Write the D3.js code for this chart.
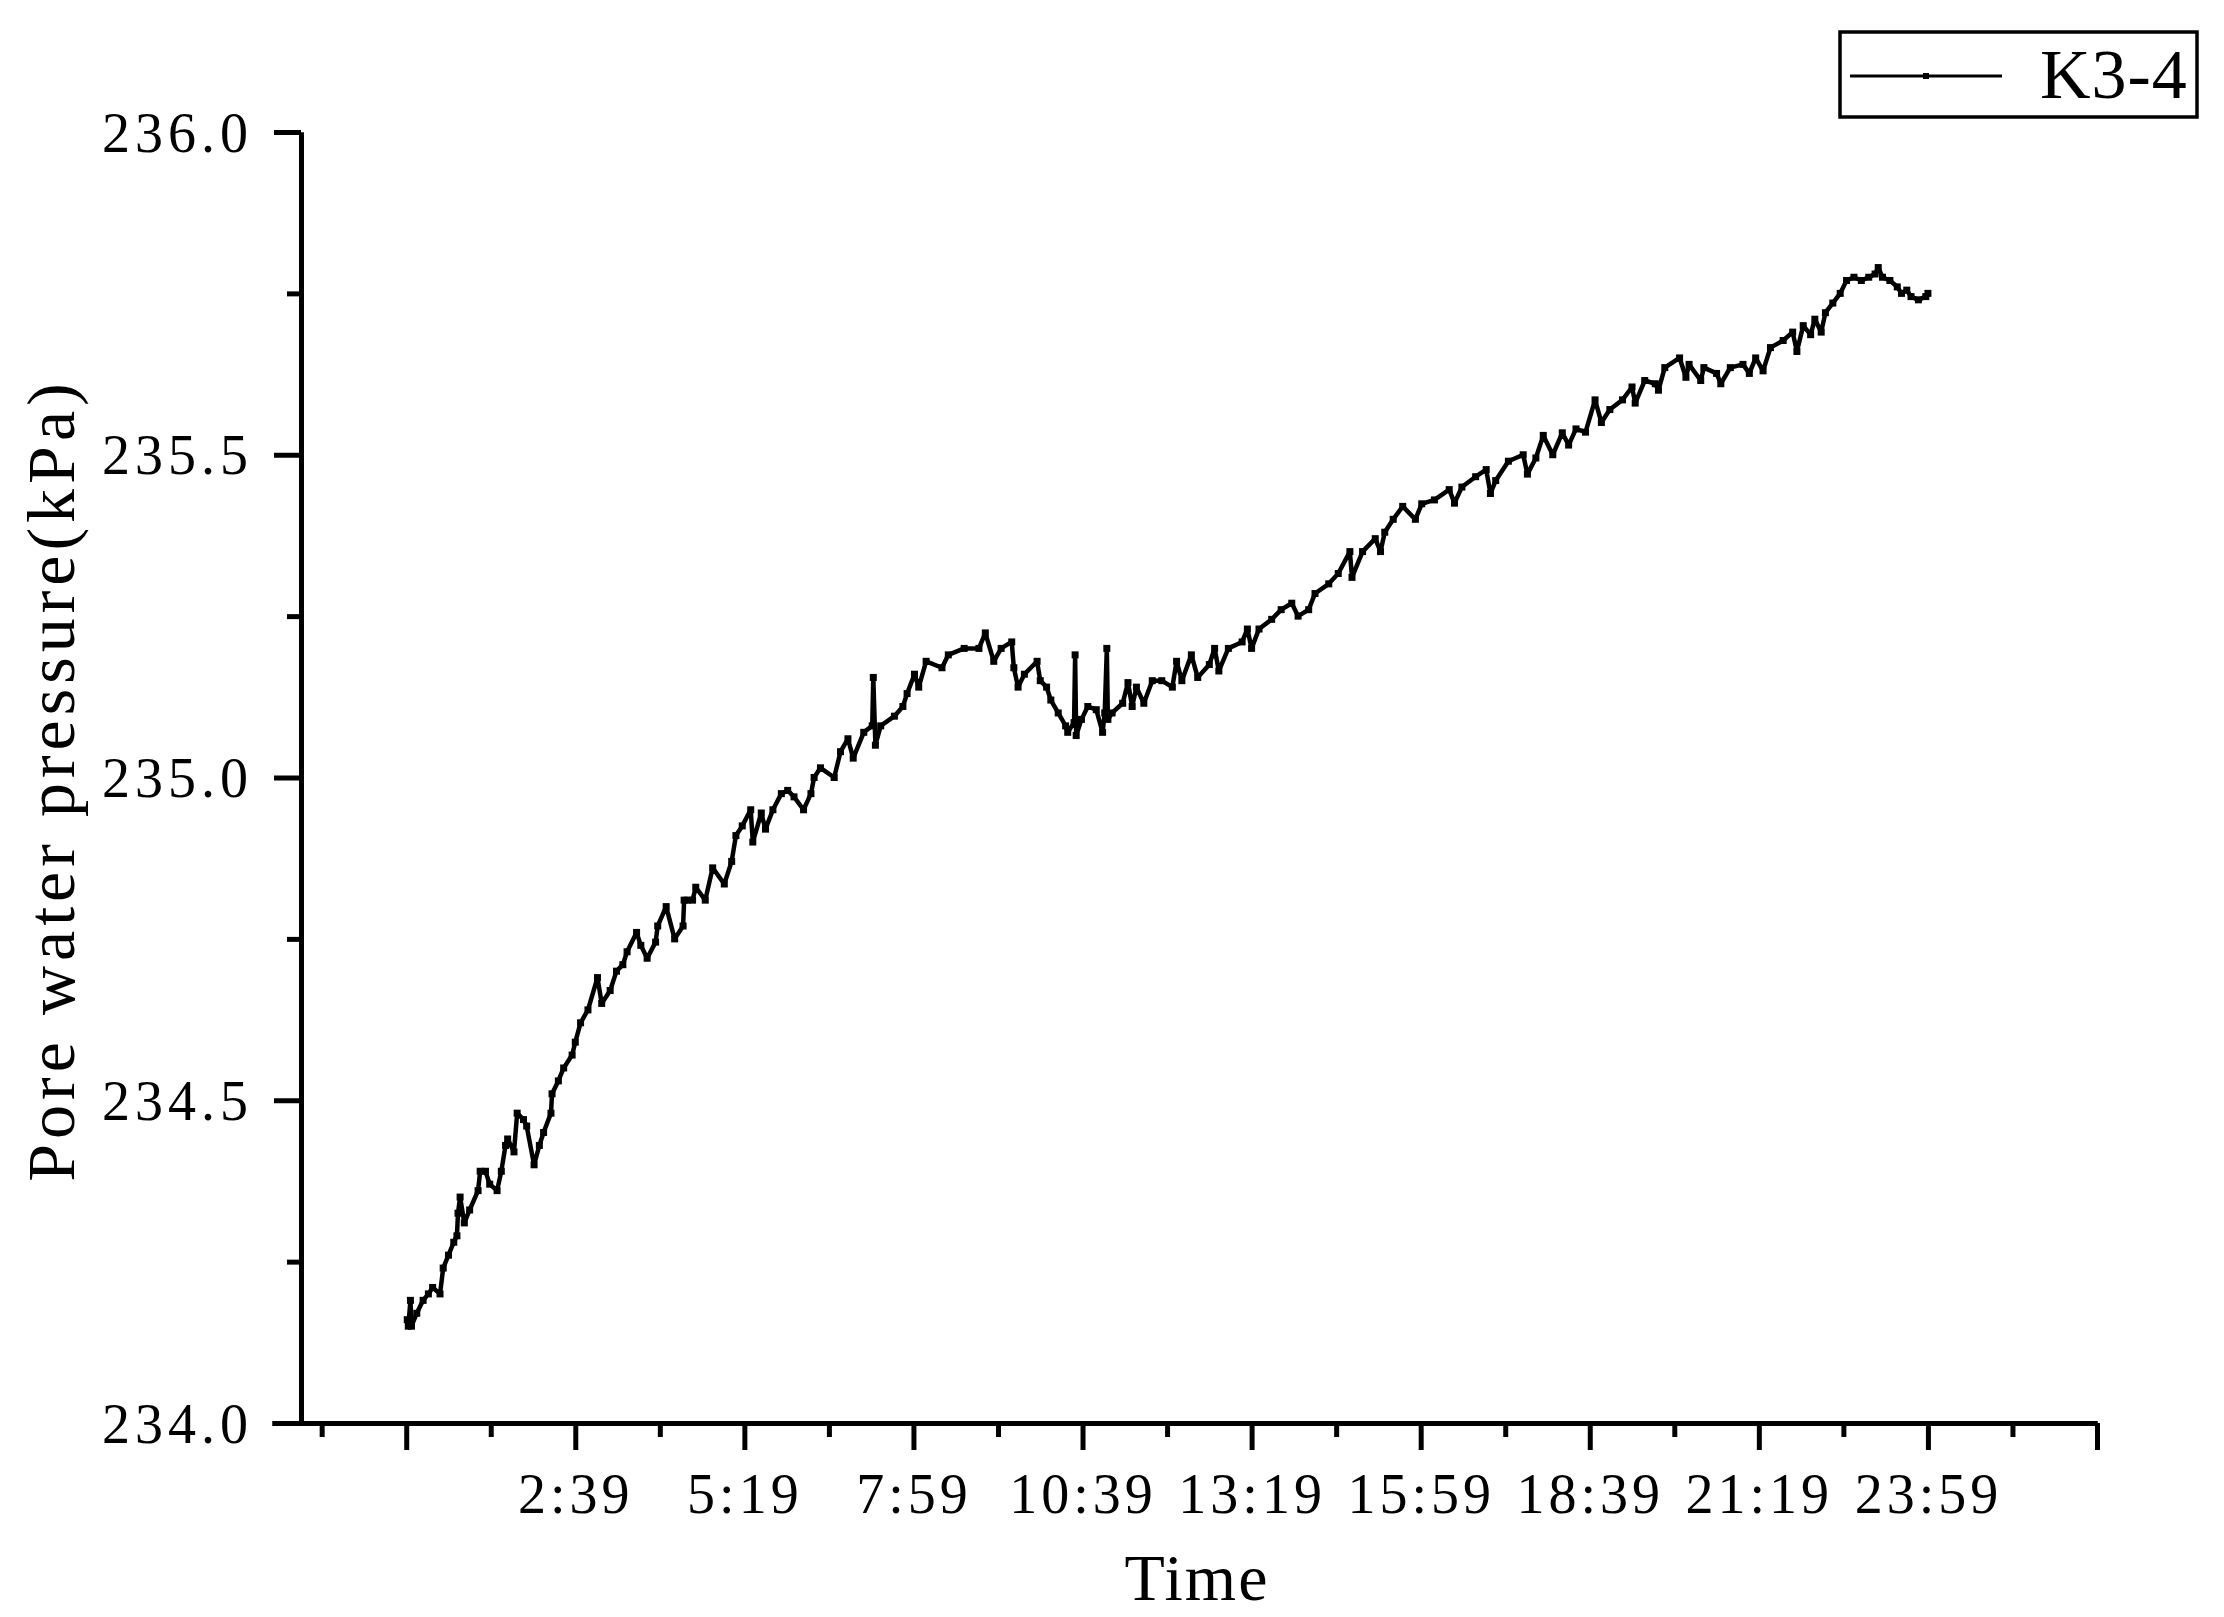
<!DOCTYPE html>
<html>
<head>
<meta charset="utf-8">
<script src="https://cdn.jsdelivr.net/npm/d3@7"></script>
<style>
    body { margin: 0; background: #fff; }
    svg text { font-family: "Liberation Serif", "Times New Roman", serif; fill: #000; }
</style>
</head>
<body>
<div id="chart"></div>
<script>
// time in minutes from 0:00, pressure in kPa
const timeMin = [
    0, 1, 3, 4, 9, 15, 20, 24, 31, 34, 39, 44, 47, 48, 50, 54, 59, 67, 69, 74,
    78, 85, 89, 93, 95, 101, 104, 110, 113, 120, 125, 129, 136, 137, 143, 148, 156, 159, 164, 171,
    180, 184, 192, 198, 204, 208, 217, 221, 227, 235, 237, 245, 253, 261, 262, 265, 270, 273, 282, 289,
    300, 307, 311, 317, 325, 327, 335, 339, 346, 354, 360, 366, 375, 382, 385, 391, 404, 410, 417, 422,
    432, 440, 441, 443, 448, 461, 469, 473, 480, 484, 491, 506, 512, 527, 541, 547, 555, 562, 572, 574,
    578, 584, 596, 599, 605, 609, 616, 623, 625, 631, 632, 633, 638, 644, 652, 658, 660, 662, 663, 667,
    677, 682, 686, 690, 697, 705, 714, 724, 728, 733, 742, 748, 759, 764, 768, 777, 790, 795, 799, 806,
    818, 827, 837, 843, 853, 859, 872, 881, 892, 894, 904, 916, 921, 925, 933, 942, 954, 960, 972, 986,
    991, 998, 1011, 1021, 1025, 1030, 1042, 1056, 1060, 1068, 1075, 1084, 1093, 1099, 1106, 1115, 1124, 1130, 1138, 1150,
    1159, 1162, 1171, 1181, 1184, 1190, 1204, 1210, 1213, 1224, 1227, 1239, 1243, 1252, 1264, 1270, 1276, 1283, 1290, 1302,
    1311, 1315, 1321, 1328, 1332, 1338, 1342, 1349, 1356, 1362, 1369, 1376, 1383, 1389, 1392, 1396, 1403, 1410, 1414, 1419,
    1423, 1430, 1437, 1439
];
const pressure = [
    234.16, 234.15, 234.19, 234.15, 234.17, 234.19, 234.20, 234.21, 234.20, 234.24, 234.26, 234.28, 234.29, 234.325, 234.35, 234.31, 234.33, 234.36, 234.39, 234.39,
    234.37, 234.36, 234.39, 234.43, 234.44, 234.42, 234.48, 234.47, 234.46, 234.40, 234.43, 234.45, 234.48, 234.51, 234.53, 234.55, 234.57, 234.59, 234.62, 234.64,
    234.69, 234.65, 234.67, 234.70, 234.71, 234.73, 234.76, 234.74, 234.72, 234.745, 234.77, 234.80, 234.75, 234.77, 234.81, 234.81, 234.81, 234.83, 234.81, 234.86,
    234.835, 234.87, 234.91, 234.925, 234.95, 234.90, 234.945, 234.92, 234.95, 234.975, 234.98, 234.97, 234.95, 234.975, 235.00, 235.015, 235.00, 235.04, 235.06, 235.03,
    235.07, 235.08, 235.155, 235.05, 235.08, 235.095, 235.11, 235.13, 235.16, 235.14, 235.18, 235.17, 235.19, 235.20, 235.20, 235.224, 235.18, 235.20, 235.21, 235.17,
    235.14, 235.16, 235.18, 235.15, 235.14, 235.12, 235.10, 235.08, 235.07, 235.085, 235.19, 235.065, 235.09, 235.11, 235.105, 235.07, 235.10, 235.20, 235.09, 235.10,
    235.115, 235.147, 235.11, 235.14, 235.115, 235.15, 235.15, 235.14, 235.18, 235.15, 235.19, 235.155, 235.175, 235.20, 235.165, 235.20, 235.21, 235.23, 235.20, 235.23,
    235.245, 235.26, 235.27, 235.25, 235.26, 235.285, 235.30, 235.316, 235.35, 235.31, 235.35, 235.37, 235.35, 235.38, 235.40, 235.42, 235.40, 235.424, 235.43, 235.446,
    235.425, 235.45, 235.466, 235.477, 235.44, 235.46, 235.49, 235.50, 235.47, 235.495, 235.53, 235.50, 235.534, 235.515, 235.54, 235.535, 235.585, 235.55, 235.57, 235.585,
    235.605, 235.58, 235.615, 235.61, 235.60, 235.635, 235.65, 235.62, 235.64, 235.615, 235.635, 235.626, 235.61, 235.635, 235.64, 235.626, 235.65, 235.63, 235.666, 235.677,
    235.69, 235.66, 235.70, 235.686, 235.71, 235.69, 235.72, 235.735, 235.75, 235.77, 235.775, 235.77, 235.775, 235.78, 235.79, 235.775, 235.77, 235.76, 235.75, 235.755,
    235.745, 235.74, 235.745, 235.75
];

const seriesName = "K3-4";
const xMajorTicks = [-1, 159, 319, 479, 639, 799, 959, 1119, 1279, 1439, 1599];
const xTickLabels = ["", "2:39", "5:19", "7:59", "10:39", "13:19", "15:59", "18:39", "21:19", "23:59", ""];
const xMinorTicks = [-81, 79, 239, 399, 559, 719, 879, 1039, 1199, 1359, 1519];
const yMajorTicks = [234.0, 234.5, 235.0, 235.5, 236.0];
const yMinorTicks = [234.25, 234.75, 235.25, 235.75];

const width = 2224;
const height = 1617;
const yAxisX = 301;
const majorLen = 27;
const minorLen = 14;

const svg = d3.select('#chart').append('svg')
    .attr('width', width)
    .attr('height', height);

const x = d3.scaleLinear().domain([-128, 1599]).range([272, 2097]);
const y = d3.scaleLinear().domain([234, 236]).range([1423, 132]);

const data = timeMin.map((t, i) => ({ t: t, v: pressure[i] }));

// x axis
const xAxisG = svg.append('g')
    .attr('transform', `translate(0,${y(234)})`);
xAxisG.call(d3.axisBottom(x).tickValues(xMinorTicks).tickSize(minorLen).tickSizeOuter(0).tickFormat(''));
xAxisG.append('g').call(d3.axisBottom(x).tickValues(xMajorTicks).tickSize(majorLen).tickSizeOuter(0)
    .tickFormat((d, i) => xTickLabels[i]));
xAxisG.selectAll('text')
    .attr('y', 90)
    .attr('dy', 0)
    .style('font-size', '56px')
    .style('letter-spacing', '4px');

// y axis
const yAxisG = svg.append('g')
    .attr('transform', `translate(${yAxisX},0)`);
yAxisG.call(d3.axisLeft(y).tickValues(yMinorTicks).tickSize(minorLen).tickSizeOuter(0).tickFormat(''));
yAxisG.append('g').call(d3.axisLeft(y).tickValues(yMajorTicks).tickSize(majorLen).tickSizeOuter(0)
    .tickFormat(d3.format('.1f')));
yAxisG.selectAll('text')
    .attr('x', -48)
    .attr('dy', '0.34em')
    .style('font-size', '56px')
    .style('letter-spacing', '5px');

svg.selectAll('.domain, .tick line')
    .attr('stroke', '#000')
    .attr('stroke-width', 5);
svg.selectAll('.tick text').attr('fill', '#000').style('font-family', '"Liberation Serif", serif');

// titles
svg.append('text')
    .attr('x', 1197)
    .attr('y', 1600)
    .attr('text-anchor', 'middle')
    .style('font-size', '66px')
    .style('letter-spacing', '2px')
    .text('Time');

svg.append('text')
    .attr('transform', 'translate(74,780) rotate(-90)')
    .attr('text-anchor', 'middle')
    .style('font-size', '68px')
    .style('letter-spacing', '5px')
    .text('Pore water pressure(kPa)');

// data line + small square symbols
const line = d3.line()
    .x(d => x(d.t))
    .y(d => y(d.v));

svg.append('path')
    .datum(data)
    .attr('fill', 'none')
    .attr('stroke', '#000')
    .attr('stroke-width', 4.5)
    .attr('stroke-linejoin', 'round')
    .attr('d', line);

svg.append('g')
    .selectAll('rect')
    .data(data)
    .enter().append('rect')
    .attr('x', d => x(d.t) - 3.5)
    .attr('y', d => y(d.v) - 3.5)
    .attr('width', 7)
    .attr('height', 7)
    .attr('fill', '#000');

// legend
const legend = svg.append('g');
legend.append('rect')
    .attr('x', 1840)
    .attr('y', 32)
    .attr('width', 357)
    .attr('height', 85)
    .attr('fill', 'none')
    .attr('stroke', '#000')
    .attr('stroke-width', 3.5);
legend.append('line')
    .attr('x1', 1850).attr('x2', 2002)
    .attr('y1', 76).attr('y2', 76)
    .attr('stroke', '#000')
    .attr('stroke-width', 3);
legend.append('rect')
    .attr('x', 1923).attr('y', 73)
    .attr('width', 6).attr('height', 6)
    .attr('fill', '#000');
legend.append('text')
    .attr('x', 2040)
    .attr('y', 98)
    .style('font-size', '70px')
    .style('letter-spacing', '1px')
    .text(seriesName);
</script>
</body>
</html>
